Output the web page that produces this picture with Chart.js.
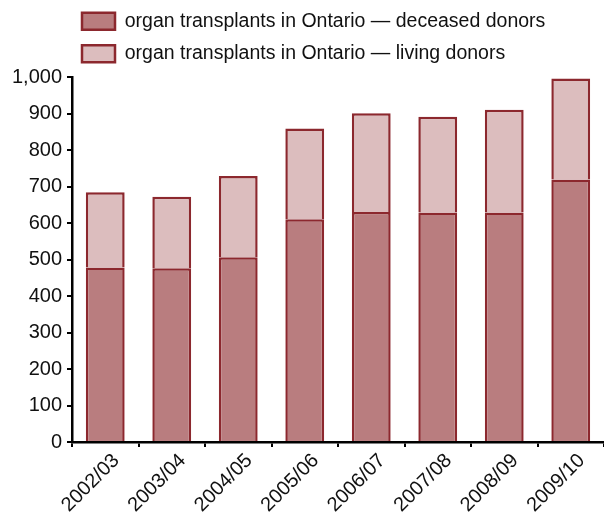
<!DOCTYPE html>
<html>
<head>
<meta charset="utf-8">
<script src="https://cdn.jsdelivr.net/npm/chart.js@4/dist/chart.umd.min.js"></script>
<style>
  html, body { margin: 0; padding: 0; background: #ffffff; }
  #wrap { width: 604px; height: 519px; }
</style>
</head>
<body>
<div id="wrap"><canvas id="chart1" width="604" height="519"></canvas></div>
<script>
var years = ['2002/03', '2003/04', '2004/05', '2005/06', '2006/07', '2007/08', '2008/09', '2009/10'];
var deceasedDonors = [478, 476, 506, 610, 630, 629, 629, 719];
var livingDonors = [206, 196, 223, 249, 271, 262, 281, 277];
var yTicks = [0, 100, 200, 300, 400, 500, 600, 700, 800, 900, 1000];

var edgeRed = '#8c282e';
var fontName = '"Liberation Sans", Arial, sans-serif';

// put the legend where the original has it (left-aligned rows above the plot)
var legendSpot = {
    id: 'legendSpot',
    beforeLayout: function(chart) {
        var lg = chart.legend;
        if (lg && !lg._patched) {
            var fit = lg.fit;
            lg.fit = function() {
                fit.call(this);
                this.height = 77;
            };
            lg._patched = true;
        }
    },
    afterLayout: function(chart) {
        var lg = chart.legend;
        var w = lg.width;
        lg.left = 69;
        lg.right = 69 + w;
        lg.top = -1.5;
    }
};

function makeTransplantChart() {
    var ctx = document.getElementById('chart1').getContext('2d');
    var chart1 = new Chart(ctx, {
        type: 'bar',
        data: {
            labels: years,
            datasets: [{
                label: 'organ transplants in Ontario \u2014 deceased donors',
                data: deceasedDonors,
                backgroundColor: '#b97d7f',
                borderColor: edgeRed,
                borderWidth: 2.5,
                categoryPercentage: 0.8,
                barPercentage: 0.73
            }, {
                label: 'organ transplants in Ontario \u2014 living donors',
                data: livingDonors,
                backgroundColor: '#dcbdbe',
                borderColor: edgeRed,
                borderWidth: 2.5,
                categoryPercentage: 0.8,
                barPercentage: 0.73
            }]
        },
        options: {
            responsive: false,
            animation: false,
            layout: { padding: 0 },
            plugins: {
                legend: {
                    position: 'top',
                    align: 'start',
                    labels: {
                        boxWidth: 33,
                        boxHeight: 17,
                        padding: 13,
                        color: '#111111',
                        font: { family: fontName, size: 19.5 }
                    }
                },
                title: { display: false },
                tooltip: { enabled: false }
            },
            scales: {
                x: {
                    stacked: true,
                    afterFit: function(scale) { scale.height = 77; },
                    grid: {
                        display: true,
                        drawOnChartArea: false,
                        drawTicks: true,
                        tickLength: 5,
                        color: '#000000',
                        lineWidth: 2
                    },
                    border: { display: true, color: '#000000', width: 2.5 },
                    ticks: {
                        autoSkip: false,
                        minRotation: 45,
                        maxRotation: 45,
                        padding: 2,
                        labelOffset: 11,
                        color: '#111111',
                        font: { family: fontName, size: 20 }
                    }
                },
                y: {
                    stacked: true,
                    min: 0,
                    max: 1000,
                    afterFit: function(scale) { scale.width = 72; },
                    afterBuildTicks: function(scale) {
                        scale.ticks = yTicks.map(function(v) { return { value: v }; });
                    },
                    grid: {
                        display: true,
                        drawOnChartArea: false,
                        drawTicks: true,
                        tickLength: 5,
                        color: '#000000',
                        lineWidth: 2
                    },
                    border: { display: true, color: '#000000', width: 2.5 },
                    ticks: {
                        padding: 5,
                        color: '#111111',
                        font: { family: fontName, size: 20 }
                    }
                }
            }
        },
        plugins: [legendSpot]
    });
}

window.onload = function() {
    makeTransplantChart();
};
</script>
</body>
</html>
